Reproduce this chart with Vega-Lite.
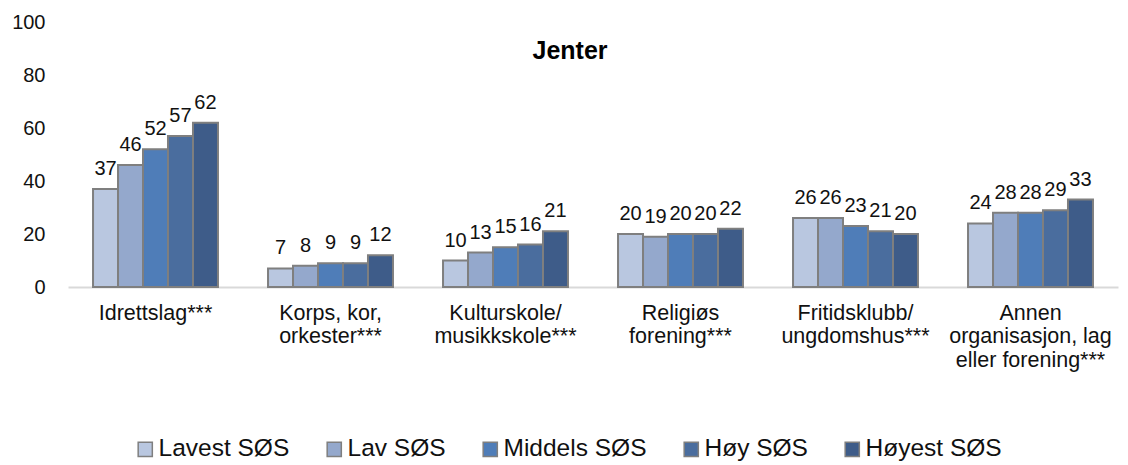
{
  "$schema": "https://vega.github.io/schema/vega-lite/v6.json",
  "width": 1050,
  "height": 265,
  "autosize": {"type": "none"},
  "padding": {"left": 68, "top": 22, "right": 10, "bottom": 178},
  "background": "white",
  "config": {"view": {"stroke": null}},
  "title": {
    "text": "Jenter",
    "fontSize": 25,
    "fontWeight": "bold",
    "font": "Liberation Sans",
    "color": "#000000",
    "anchor": "middle",
    "baseline": "bottom",
    "offset": -77,
    "dx": -23
  },
  "data": {
    "values": [
      {"kat": "Idrettslag***", "sos": "Lavest SØS", "v": 37},
      {"kat": "Idrettslag***", "sos": "Lav SØS", "v": 46},
      {"kat": "Idrettslag***", "sos": "Middels SØS", "v": 52},
      {"kat": "Idrettslag***", "sos": "Høy SØS", "v": 57},
      {"kat": "Idrettslag***", "sos": "Høyest SØS", "v": 62},
      {"kat": "Korps, kor,|orkester***", "sos": "Lavest SØS", "v": 7},
      {"kat": "Korps, kor,|orkester***", "sos": "Lav SØS", "v": 8},
      {"kat": "Korps, kor,|orkester***", "sos": "Middels SØS", "v": 9},
      {"kat": "Korps, kor,|orkester***", "sos": "Høy SØS", "v": 9},
      {"kat": "Korps, kor,|orkester***", "sos": "Høyest SØS", "v": 12},
      {"kat": "Kulturskole/|musikkskole***", "sos": "Lavest SØS", "v": 10},
      {"kat": "Kulturskole/|musikkskole***", "sos": "Lav SØS", "v": 13},
      {"kat": "Kulturskole/|musikkskole***", "sos": "Middels SØS", "v": 15},
      {"kat": "Kulturskole/|musikkskole***", "sos": "Høy SØS", "v": 16},
      {"kat": "Kulturskole/|musikkskole***", "sos": "Høyest SØS", "v": 21},
      {"kat": "Religiøs|forening***", "sos": "Lavest SØS", "v": 20},
      {"kat": "Religiøs|forening***", "sos": "Lav SØS", "v": 19},
      {"kat": "Religiøs|forening***", "sos": "Middels SØS", "v": 20},
      {"kat": "Religiøs|forening***", "sos": "Høy SØS", "v": 20},
      {"kat": "Religiøs|forening***", "sos": "Høyest SØS", "v": 22},
      {"kat": "Fritidsklubb/|ungdomshus***", "sos": "Lavest SØS", "v": 26},
      {"kat": "Fritidsklubb/|ungdomshus***", "sos": "Lav SØS", "v": 26},
      {"kat": "Fritidsklubb/|ungdomshus***", "sos": "Middels SØS", "v": 23},
      {"kat": "Fritidsklubb/|ungdomshus***", "sos": "Høy SØS", "v": 21},
      {"kat": "Fritidsklubb/|ungdomshus***", "sos": "Høyest SØS", "v": 20},
      {"kat": "Annen|organisasjon, lag|eller forening***", "sos": "Lavest SØS", "v": 24},
      {"kat": "Annen|organisasjon, lag|eller forening***", "sos": "Lav SØS", "v": 28},
      {"kat": "Annen|organisasjon, lag|eller forening***", "sos": "Middels SØS", "v": 28},
      {"kat": "Annen|organisasjon, lag|eller forening***", "sos": "Høy SØS", "v": 29},
      {"kat": "Annen|organisasjon, lag|eller forening***", "sos": "Høyest SØS", "v": 33}
    ]
  },
  "encoding": {
    "x": {
      "field": "kat",
      "type": "nominal",
      "sort": null,
      "title": null,
      "scale": {"paddingInner": 0.286, "paddingOuter": 0.143},
      "axis": {
        "labelExpr": "split(datum.label, '|')",
        "labelAngle": 0,
        "labelFont": "Liberation Sans",
        "labelFontSize": 21.5,
        "labelColor": "#111111",
        "labelLineHeight": 23.5,
        "labelPadding": 15,
        "labelBaseline": "top",
        "ticks": false,
        "domainColor": "#d9d9d9",
        "domainWidth": 2,
        "labelLimit": 300
      }
    },
    "xOffset": {
      "field": "sos",
      "type": "nominal",
      "sort": ["Lavest SØS", "Lav SØS", "Middels SØS", "Høy SØS", "Høyest SØS"],
      "scale": {"paddingInner": 0, "paddingOuter": 0}
    },
    "y": {
      "field": "v",
      "type": "quantitative",
      "title": null,
      "scale": {"domain": [0, 100]},
      "axis": {
        "values": [0, 20, 40, 60, 80, 100],
        "grid": false,
        "domain": false,
        "ticks": false,
        "labelPadding": 23,
        "labelFont": "Liberation Sans",
        "labelFontSize": 20,
        "labelColor": "#111111"
      }
    }
  },
  "layer": [
    {
      "mark": {"type": "bar", "stroke": "#7f7f7f", "strokeWidth": 2},
      "encoding": {
        "color": {
          "field": "sos",
          "type": "nominal",
          "sort": ["Lavest SØS", "Lav SØS", "Middels SØS", "Høy SØS", "Høyest SØS"],
          "scale": {
            "domain": ["Lavest SØS", "Lav SØS", "Middels SØS", "Høy SØS", "Høyest SØS"],
            "range": ["#b9c7e0", "#94a8cc", "#4f7db8", "#4a6d9e", "#3e5c89"]
          },
          "legend": {
            "title": null,
            "orient": "none",
            "direction": "horizontal",
            "legendX": 65,
            "legendY": 415,
            "symbolType": "square",
            "symbolSize": 200,
            "symbolStrokeColor": "#7f7f7f",
            "symbolStrokeWidth": 1.5,
            "labelFont": "Liberation Sans",
            "labelFontSize": 24.5,
            "labelColor": "#111111",
            "labelOffset": 1,
            "columnPadding": 32,
            "symbolOffset": 0
          }
        }
      }
    },
    {
      "mark": {
        "type": "text",
        "baseline": "bottom",
        "dy": -10,
        "font": "Liberation Sans",
        "fontSize": 20,
        "color": "#111111"
      },
      "encoding": {
        "text": {"field": "v", "type": "quantitative"}
      }
    }
  ]
}
